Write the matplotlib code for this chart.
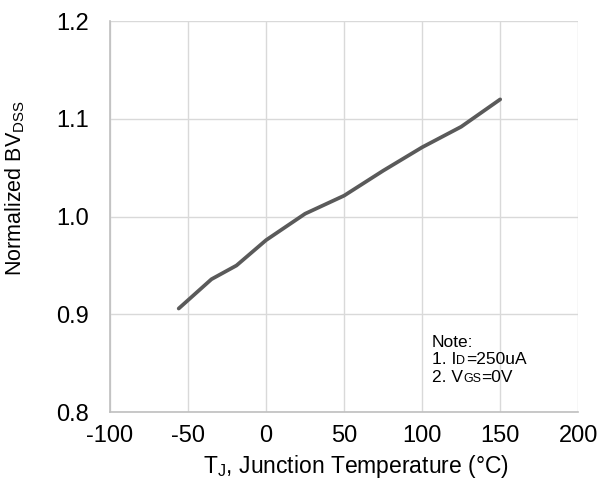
import matplotlib
matplotlib.use("Agg")
import matplotlib.pyplot as plt

plt.rcParams['font.family'] = ['Liberation Sans', 'DejaVu Sans']
plt.rcParams['mathtext.fontset'] = 'custom'
plt.rcParams['mathtext.rm'] = 'Liberation Sans'
plt.rcParams['mathtext.it'] = 'Liberation Sans'
plt.rcParams['axes.unicode_minus'] = False

# data
temp = [-56, -35, -19, 0, 25, 50, 75, 100, 125, 150]
bvdss = [0.906, 0.936, 0.950, 0.976, 1.003, 1.0215, 1.047, 1.071, 1.092, 1.120]

xticks = [-100, -50, 0, 50, 100, 150, 200]
yticks = [0.8, 0.9, 1.0, 1.1, 1.2]

# note lines as (text, is_small) pieces
note_lines = [
    [('Note:', False)],
    [('1. I', False), ('D', True), ('=250uA', False)],
    [('2. V', False), ('GS', True), ('=0V', False)],
]

fig = plt.figure(figsize=(6.08, 4.82), dpi=100)
ax = fig.add_axes([0.181, 0.145, 0.770, 0.811])

ax.plot(temp, bvdss, color='#5a5a5a', lw=2.7, solid_capstyle='round')

ax.set_xlim(-100, 200)
ax.set_ylim(0.8, 1.2)
ax.set_xticks(xticks)
ax.set_yticks(yticks)
ax.set_yticklabels(['%.1f' % v for v in yticks])
ax.grid(True, color='#d9d9d9', lw=1)
ax.set_axisbelow(True)
ax.tick_params(length=0, labelsize=17, colors='black')
ax.tick_params(axis='x', pad=9)
ax.tick_params(axis='y', pad=15)

for side in ['top', 'right']:
    ax.spines[side].set_visible(False)
for side in ['left', 'bottom']:
    ax.spines[side].set_color('#bfbfbf')
    ax.spines[side].set_linewidth(1.2)

ax.set_xlabel(r'T$\mathregular{_J}$, Junction Temperature (°C)', fontsize=16.5)
ax.set_ylabel(r'Normalized BV$\mathregular{_{DSS}}$', fontsize=15.5)
ax.xaxis.set_label_coords(0.526, -0.105)
ax.yaxis.set_label_coords(-0.178, 0.573)

# note box, small caps kept on the baseline like the original
renderer = fig.canvas.get_renderer()
x0, y0 = 432, 482 - 347
for line in note_lines:
    x = x0
    for s, small in line:
        t = fig.text(x / 608, y0 / 482, s, fontsize=9 if small else 12.5,
                     va='baseline', ha='left')
        x = t.get_window_extent(renderer).x1 + (0.5 if small else 0)
    y0 -= 17.5

fig.savefig('out.png', dpi=100)
